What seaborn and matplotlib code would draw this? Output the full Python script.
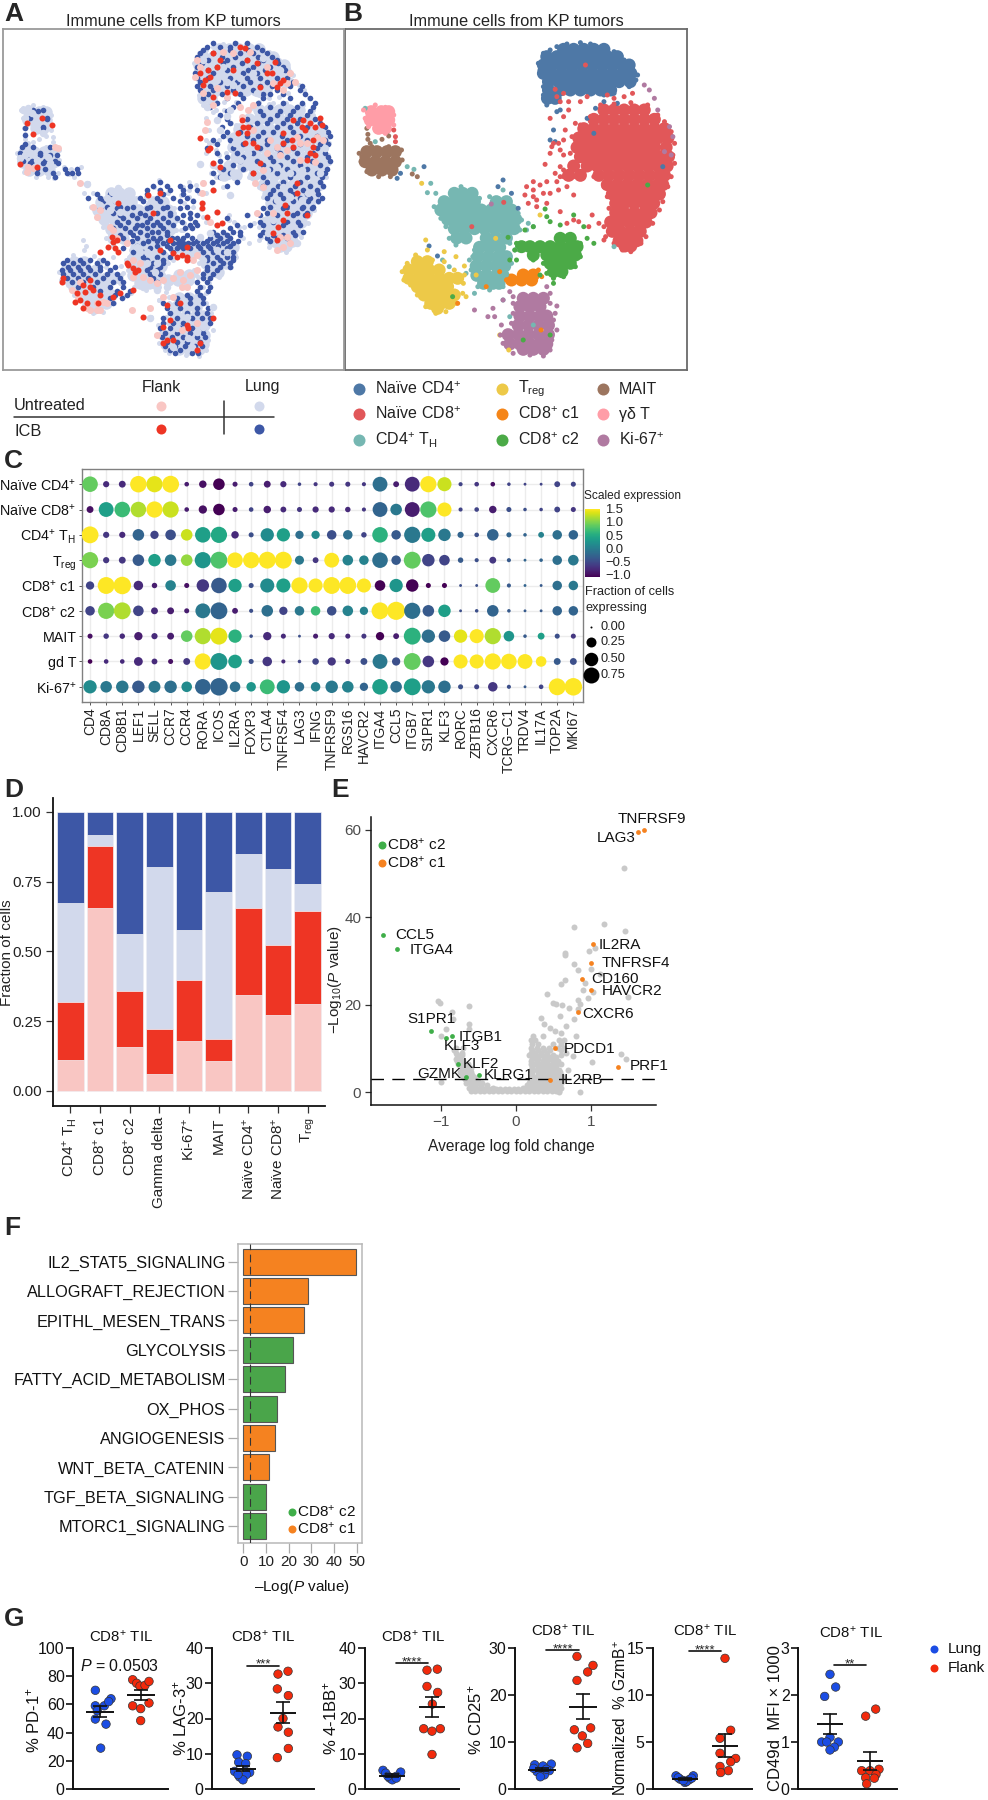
import warnings
import numpy as np
import pandas as pd
import seaborn as sns
import matplotlib
matplotlib.use("Agg")
import matplotlib.pyplot as plt
from matplotlib.cm import ScalarMappable
from matplotlib.colors import Normalize

warnings.filterwarnings("ignore")
sns.set_theme(style="white")
plt.rcParams["font.family"] = ["Liberation Sans", "DejaVu Sans"]
plt.rcParams.update({"mathtext.fontset": "custom", "mathtext.rm": "Liberation Sans",
                     "mathtext.it": "Liberation Sans:italic", "mathtext.bf": "Liberation Sans:bold",
                     "mathtext.default": "regular"})

# ---------- UMAP readings (dense cores as y: [x, ...]) ----------
core_naive_cd4 = {58:[650,680,710,740,770], 80:[600,630,660,690,720,750,780,810],
    105:[590,615,645,675,705,735,765,795,825,845], 130:[590,615,645,675,705,735,765,795,825,850],
    155:[605,635,665,695,725,755,785,815,848], 180:[605,640,670,700,730,760,790], 205:[602,625]}
core_naive_cd8 = {240:[770,800,830,860,890], 268:[740,770,800,830,860,890,920],
    296:[710,740,770,800,830,860,890,920,950], 324:[695,720,750,780,810,840,870,900,930,960],
    352:[690,710,740,770,800,830,860,890,920,955], 380:[700,730,760,790,820,850,880,910,940,962],
    408:[680,720,750,780,810,840,870,900,930,958], 436:[665,700,755,785,815,845,875,905,935,950],
    464:[780,810,840,870,900,930,945], 492:[795,820,850,880,910,935], 520:[805,830,860,890,918],
    548:[805,830,860,890,910], 576:[790,815,845,875,895], 604:[795,820,850,878], 632:[815,840,868], 648:[832,850]}
core_cd4_th = {490:[325,350,378], 515:[295,325,355,385,450,480], 540:[285,315,345,375,405,435,465,495],
    568:[305,335,365,395,425,455,485,508], 596:[325,355,385,415,445,475,503], 624:[332,360,420,450,480],
    652:[400,430,460], 680:[395,425,455,480], 708:[390,420,450,475], 736:[392,420,450,470], 760:[412,440,458]}
core_treg = {695:[215,245], 720:[190,220,250,280], 745:[190,220,250,280,310,335], 770:[215,245,275,305],
    795:[235,265,295,325], 820:[255,285,310], 835:[275]}
core_ki67 = {805:[530,560,590], 830:[520,550,580], 858:[520,550,580,600], 886:[515,545,575,605],
    914:[485,515,545,575,605], 942:[490,520,550,580,600], 958:[530,560,590]}
core_c2 = {625:[640,670], 650:[525,550,580,610,640,670,690], 675:[560,600,630,660,685], 700:[610,640,670], 725:[620,645]}
core_c1 = {735:[530,560], 750:[495,525,555]}
core_mait = {365:[65,95,125,150], 395:[60,90,120,150], 420:[80,110,140]}
core_gd = {245:[78,108,130], 270:[75,105,130], 295:[100,120]}

sat_naive_cd4 = [(640,240),(630,245),(620,300),(610,330),(625,335),(740,310),(770,215),(810,220),(745,235),(720,265),
    (155,445),(165,430),(235,410),(470,450),(455,470),(495,490),(515,535),(250,648),(275,678),(945,410),
    (575,100),(580,120),(590,70),(610,60),(630,50),(660,42),(700,38),(730,42),(770,50),(800,65),(830,90),(855,115),
    (870,135),(865,150),(845,170),(800,190),(770,195),(590,195),(590,170),(600,225),(620,215)]
sat_naive_cd8 = [(625,178),(650,190),(640,215),(665,215),(700,215),(720,200),(780,195),(800,205),(830,200),(855,190),
    (610,265),(650,260),(655,300),(685,280),(620,340),(610,370),(640,360),(640,410),(595,403),(630,455),(650,440),
    (680,420),(540,470),(560,480),(580,465),(600,455),(535,495),(560,500),(590,490),(610,490),(635,480),(680,495),
    (545,520),(570,530),(600,520),(640,545),(735,555),(755,580),(725,590),(660,580),(680,570),(695,575),(770,630),
    (145,300),(150,320),(150,335),(715,105),(472,517),(377,590),
    (760,225),(800,222),(850,218),(900,225),(930,255),(950,275),(970,305),(980,340),(975,375),(980,400),(970,440),
    (960,470),(945,515),(935,540),(915,580),(895,620),(880,640),(850,665),(825,660),(800,640),(775,620),(770,590),
    (785,535),(780,500),(770,470),(740,440),(715,420),(680,440),(650,420),(670,370),(675,320),(700,285),(730,260),
    (750,420),(640,440),(660,470),(625,430),(630,200),(665,240),(650,330),(635,340),(615,350),(650,375),(560,455),(570,510)]
sat_cd4_th = [(245,488),(270,490),(255,460),(545,580),(560,590),(540,600),(385,660),(370,690),(360,730),(385,790),
    (310,710),(290,690),(205,418),(185,410),(470,810),(490,860),(560,885),(800,650),(60,235),(90,335),
    (265,530),(285,565),(300,590),(310,625),(345,470),(375,480),(400,505),(430,500),(470,480),(515,550),(525,570),
    (520,600),(490,640),(505,660),(495,700),(480,735),(470,770),(430,780),(395,770),(375,720),(380,680),(330,645)]
sat_treg = [(240,630),(245,660),(295,665),(330,680),(355,708),(350,790),(360,800),(390,735),(448,625),(228,460),
    (580,555),(460,915),(487,960),(170,725),(175,750),(195,765),(215,795),(240,830),(270,850),(300,845),(330,820),
    (352,760),(355,735),(325,720),(295,695),(260,690),(210,675),(185,700)]
sat_ki67 = [(890,165),(905,180),(920,205),(930,240),(965,290),(975,320),(490,785),(470,810),(500,820),(440,835),
    (385,840),(425,860),(445,860),(465,885),(630,828),(625,850),(600,770),(950,365),(970,375),(435,522),
    (500,800),(610,790),(610,820),(620,870),(630,900),(615,930),(610,960),(590,978),(550,975),(500,970),(470,940),
    (462,915),(495,880),(500,850)]
sat_c2 = [(485,622),(535,600),(560,590),(595,537),(600,560),(610,575),(640,585),(680,555),(710,590),(720,625),
    (740,640),(490,690),(510,690),(580,735),(620,760),(610,915),(530,930),(900,465),(320,800),
    (510,640),(505,660),(560,690),(590,700),(600,730),(700,640),(700,680),(685,710),(650,740),(620,745)]
sat_c1 = [(585,740),(583,900),(420,770),(460,725),(335,820),(480,750),(575,720)]
sat_mait = [(65,295),(68,313),(68,328),(75,340),(110,328),(130,318),(100,440),(135,440),(200,432),(215,440),(50,380),
    (42,370),(48,395),(65,425),(170,390),(168,360),(130,350),(80,350)]
sat_gd = [(55,240),(60,265),(90,225),(120,232),(145,255),(145,285),(120,310),(90,295),(70,290)]

# panel A: cells by condition, read at A's own position
lung_icb_rows = {50:[620,660,690,770], 70:[600,640,720,760,800], 90:[625,680,740,790,830], 110:[590,650,700,760,810,850],
    130:[585,640,730,770,870], 155:[600,660,710,750,800,880], 180:[600,640,700,760,830,900], 205:[610,680,730,790,870,930],
    230:[630,700,810,890,940], 255:[660,790,830,870,920], 280:[690,770,800,850,890,960], 305:[680,720,790,820,880,985],
    330:[640,690,760,800,860,920,975], 355:[620,700,780,830,880,950], 380:[680,730,810,860,920,985], 405:[700,790,840,900,960],
    430:[640,690,760,830,880,950,975,110,160,200,215,235], 455:[480,635,710,800,850,900,960], 480:[440,480,510,550,590,820,870,910,950],
    505:[265,300,420,470,520,560,800,850,900,930,965], 530:[320,360,400,450,500,560,810,860,910,940],
    550:[340,420,470,510,570,770,800,890,920], 565:[370,410,450,490,530,570,680], 585:[360,410,425,460,480,520,570,590,710,750,790,850,900],
    605:[390,420,455,475,500,640,670,700,720,790,880,910], 625:[370,410,460,480,515,530,550,575,600,630,660,690,800,830,860],
    640:[380,430,490,520,535,550,565,580,610,640,670,700], 655:[370,450,510,530,550,570,600,630,680], 680:[430,470,510,620,650,680,700],
    700:[190,220,250,290,320,460,490,640,670,690], 720:[185,210,240,270,300,330,440,470,620,650], 745:[200,235,265,310,360,460,610,630],
    770:[235,280,330,370,600,630], 795:[345,380,560,600], 820:[290,340,490,530,570,610], 850:[510,560,590,620], 880:[490,520,550,590,630],
    910:[495,530,570,610], 935:[500,530,560,600], 960:[510,540,590], 240:[100,130], 265:[90,140], 295:[75,130], 315:[75],
    350:[65,100,150], 375:[80,120,150,170], 400:[90,130,175]}
lung_icb_rows2 = {40:[640,705,740], 60:[610,690,745,785], 80:[590,665,705,775,815], 100:[605,670,725,775,835], 120:[625,680,745,795,855],
    145:[590,625,690,740,780,830,862], 168:[590,630,680,730,780,815,870,905], 192:[625,665,720,790,810,850,915], 218:[650,715,775,850,905,945],
    242:[680,780,840,880,930,115], 268:[680,740,810,860,900,945,140], 292:[665,750,830,870,920,975,130], 318:[670,740,775,845,900,950,990],
    342:[650,730,800,850,900,960,985,75], 368:[650,710,760,840,890,940,975,60,120], 392:[660,720,770,820,880,935,990,95,70,135,165],
    418:[670,730,810,860,920,980,110,135,195,230], 442:[660,790,870,920,965,165], 468:[680,790,835,885,930,970,460,500,540,570],
    492:[810,840,880,920,955,290,330,440,490,550], 512:[825,880,925,955,310,345,430,480,540,580], 535:[790,850,905,935,300,350,380,440,490,540],
    555:[360,395,435,510,550,590,740,780,830,880,915], 575:[350,385,440,470,505,545,585,780,820,860,895],
    595:[340,375,405,440,490,555,575,690], 615:[360,400,440,500,560,650,680,720,780,820,850,885], 632:[395,445,470,505,540,590,620,650,680,715,810,835],
    648:[410,470,500,540,560,595,625,655,690], 665:[400,430,490,520,610,640,670,700], 690:[200,240,270,310,440,490,620,660,700],
    710:[205,235,265,300,345,450,480,620,660,690], 732:[190,220,250,285,320,350,450,480,610,640], 755:[215,250,290,340,370,470,590,620],
    782:[300,350,390,590,625], 805:[330,365,530,570,610], 835:[500,540,590,625], 865:[490,530,575,605,630], 895:[480,510,540,575,610],
    922:[485,515,550,590,615], 948:[495,525,555,585,605], 968:[525,575,595]}
flank_icb_pts = [(600,130),(615,150),(630,140),(640,70),(650,110),(700,120),(720,50),(735,55),(825,95),(800,130),(780,170),(680,185),
    (640,200),(840,160),(850,150),(725,270),(730,290),(715,310),(745,290),(735,340),(910,270),(930,280),(960,265),(965,285),(905,290),
    (875,330),(850,310),(930,370),(940,350),(770,350),(890,460),(855,525),(850,570),(820,610),(835,590),(920,555),(760,430),(600,325),
    (625,360),(640,400),(660,410),(630,355),(640,480),(605,520),(605,535),(650,545),(650,585),(665,580),(620,560),(480,490),(460,550),
    (445,495),(355,520),(335,620),(345,655),(325,650),(355,665),(300,665),(385,705),(400,715),(415,720),(480,660),(510,630),(560,680),
    (530,680),(560,650),(560,690),(250,765),(270,770),(280,780),(260,820),(240,810),(295,820),(190,745),(185,755),(230,790),(340,800),
    (360,790),(400,780),(430,860),(640,865),(490,890),(490,940),(520,930),(560,885),(590,960),(500,825),(110,410),(60,403),(125,265),
    (100,312),(80,280),(155,285),
    (610,165),(625,120),(660,90),(740,90),(770,100),(815,130),(830,170),(705,190),(740,310),(880,270),(945,290),(915,300),(880,350),(850,340),
    (940,330),(945,375),(920,390),(780,400),(760,340),(890,490),(860,550),(830,630),(380,700),(405,725),(350,630),(340,635),(520,670),(545,675),
    (270,750),(255,785),(300,795),(225,815),(250,835),(540,820),(510,870),(565,895),(600,940),(500,930)]
flank_untreated_pts = [(590,90),(600,110),(670,65),(610,190),(680,200),(870,130),(885,155),(850,180),(745,240),(760,225),(620,275),
    (615,300),(830,350),(860,360),(900,340),(950,320),(970,330),(800,370),(765,460),(770,550),(850,650),(830,660),(870,640),(290,840),
    (270,840),(310,815),(235,800),(400,690),(420,700),(430,740),(490,750),(520,745),(550,750),(570,735),(580,690),(545,770),(395,840),
    (450,835),(470,915),(290,560),(280,530),(175,355),(85,410),(240,460),(605,490),(610,460),(630,575),(590,675),(350,625),
    (585,140),(650,175),(700,70),(750,65),(800,110),(820,160),(860,160),(640,225),(720,230),(725,260),(760,300),(810,330),(840,375),(890,320),
    (920,340),(900,390),(945,395),(790,470),(790,420),(820,550),(840,620),(860,620),(290,820),(260,835),(300,840),(320,820),(215,780),(240,755),
    (400,740),(450,750),(470,760),(540,725),(590,720),(560,770),(520,800),(490,800),(545,900),(590,880),(340,600),(330,590),(165,350),(100,415),
    (80,425),(300,540),(380,640)]
lung_untreated_pts = [(260,462),(690,495),(600,403),(640,405),(450,865),(640,830),(680,258),(690,240),(660,300),
    (70,240),(85,235),(95,250),(75,265),(110,300),(130,310),(60,385),(75,375),(110,390),(150,400),(145,380),(90,370),
    (335,485),(355,475),(375,490),(320,505),(345,510),(300,525),(330,540),(360,545),(310,560),(395,510),(315,585),
    (470,700),(440,665),(465,725),(500,770),(470,780),(430,770),(440,700),(420,665),(410,650),
    (560,860),(530,895),(590,905),(520,950),(575,950),(565,925),(610,890),
    (650,150),(680,155),(720,145),(760,130),(790,85),(670,110),(610,90),(700,165),(770,190),(840,120),(620,230),(650,270),
    (705,340),(720,390),(745,370),(800,420),(830,410),(870,430),(905,420),(820,450),(850,470),(905,510),(925,490),(960,430),
    (830,510),(870,500),(880,535),(820,570),(870,590),(890,640),(805,610),(840,640),(975,355),(965,305),(700,430),(665,440),
    (650,660),(610,690),(680,665),(630,610),(600,620)]

umap_names = ["Naïve CD4", "Naïve CD8", "CD4 TH", "Treg", "CD8 c1", "CD8 c2", "MAIT", "gd", "Ki67"]
umap_colors = ["#4E78A6", "#E15759", "#76B7B2", "#EDC948", "#F58518", "#4BAA47", "#9C755F", "#FF9DA7", "#B07AA1"]
cond_colors = {"fu": "#F9C6C3", "fi": "#EE3524", "lu": "#D2D9EC", "li": "#3D57A6"}

# ---------- Panel C ----------
genes = ["CD4","CD8A","CD8B1","LEF1","SELL","CCR7","CCR4","RORA","ICOS","IL2RA","FOXP3","CTLA4","TNFRSF4","LAG3","IFNG","TNFRSF9",
         "RGS16","HAVCR2","ITGA4","CCL5","ITGB7","S1PR1","KLF3","RORC","ZBTB16","CXCR6","TCRG−C1","TRDV4","IL17A","TOP2A","MKI67"]
dot_rows = ["Naïve CD4$^{+}$","Naïve CD8$^{+}$","CD4$^{+}$ T$_{H}$","T$_{reg}$","CD8$^{+}$ c1","CD8$^{+}$ c2","MAIT","gd T","Ki-67$^{+}$"]
expr = [
 [.9,-.7,-.7,1.5,1.4,1.5,-.8,-.9,-1,-.8,-.5,-.8,-.7,-.5,-.6,-.6,-.6,-.6,-.1,-.8,-.7,1.5,1.3,-.5,-.6,-.9,-.5,-.5,-.5,-.5,-.5],
 [-.9,.4,.7,1.2,1.5,1.3,-.8,-.9,-1,-.8,-.5,-.8,-.7,-.6,-.7,-.7,-.7,-.6,-.2,0,-.8,.8,1.5,-.5,-.5,-.8,-.4,-.4,-.5,-.5,-.6],
 [1.5,-.6,-.7,-.2,-.5,-.4,1.3,.4,.5,-.7,-.4,.2,.4,-.1,.2,-.4,-.1,-.5,.6,-.3,0,.4,0,-.2,-.4,-.2,-.2,-.2,.1,-.1,-.2],
 [1,-.6,-.6,-.3,.4,0,1.1,.3,.8,1.5,1.5,1.5,1.5,0,-.6,1.5,.1,.1,-.1,-.3,.9,-.5,-.5,-.3,-.4,-.6,-.3,-.2,-.2,-.1,0],
 [-.5,1.5,1.5,-.7,-.8,.1,-.9,-.6,-.3,.4,-.4,.2,.4,1.5,1.5,1.5,1.5,1.5,-1,.3,-1,-1,-1,-.4,-.4,.9,-.3,-.2,-.3,-.1,0],
 [-.5,1,1.2,-.5,-.7,-.8,-.8,0,-.2,-.8,-.4,-.1,-.5,0,.7,-.4,.1,.1,1.5,1.5,-.1,-.3,.4,-.4,-.4,-.2,-.3,-.3,-.3,-.2,-.2],
 [-.9,-.6,-.7,-.8,-.7,-.8,.9,1.2,1.4,.6,-.4,-.7,-.7,-.4,-.8,-.7,-.7,-.6,-1,-.8,.6,-.1,-.3,1.4,1.5,1.2,.3,-.3,.4,-.4,-.6],
 [-1,-.7,-.7,-.7,-.7,-.9,-.6,1.5,.3,.4,-.4,-.6,-.7,-.5,-.5,-.6,-.6,-.4,0,-.4,.9,-.6,-1,1.5,1.5,1.5,1.5,1.5,1.5,-.3,-.4],
 [.2,0,0,-.3,0,-.1,.2,-.2,-.2,-.1,.3,.7,.3,-.1,.1,0,.1,-.2,.4,-.1,.4,0,-.1,-.4,-.5,-.6,-.4,-.3,-.5,1.5,1.5]]
frac = [
 [.55,.08,.1,.62,.6,.65,.04,.12,.3,.05,.04,.1,.08,.02,.03,.05,.05,.03,.5,.07,.5,.6,.45,.03,.04,.04,.02,.01,.01,.07,.05],
 [.1,.5,.55,.55,.6,.6,.04,.15,.3,.05,.04,.12,.07,.05,.08,.08,.06,.03,.5,.3,.5,.6,.45,.03,.04,.12,.05,.02,.02,.07,.05],
 [.65,.08,.08,.3,.15,.25,.3,.55,.6,.12,.05,.4,.4,.15,.15,.2,.2,.06,.55,.2,.6,.45,.35,.08,.04,.3,.05,.02,.07,.2,.2],
 [.6,.08,.1,.3,.35,.3,.3,.6,.65,.55,.6,.65,.65,.18,.07,.5,.25,.2,.55,.2,.65,.35,.25,.06,.03,.1,.03,.01,.02,.2,.25],
 [.15,.65,.7,.2,.06,.25,.05,.35,.55,.4,.05,.45,.45,.6,.45,.65,.65,.45,.25,.4,.35,.05,.05,.01,.01,.5,.03,.01,.01,.2,.2],
 [.2,.6,.65,.25,.1,.1,.05,.5,.65,.07,.03,.3,.15,.2,.2,.2,.25,.15,.65,.75,.6,.3,.35,.01,.02,.3,.02,.01,.01,.2,.2],
 [.05,.06,.06,.15,.08,.1,.3,.6,.65,.4,.02,.15,.05,.01,.05,.08,.05,.05,.15,.07,.65,.4,.3,.4,.45,.6,.25,.02,.1,.05,.05],
 [.04,.04,.04,.17,.07,.05,.1,.6,.65,.42,.05,.2,.03,.02,.09,.15,.05,.1,.5,.15,.65,.3,.15,.45,.45,.6,.55,.5,.25,.1,.1],
 [.4,.3,.35,.35,.32,.35,.25,.55,.7,.25,.2,.5,.4,.2,.2,.35,.3,.15,.55,.3,.65,.4,.35,.05,.05,.2,.03,.01,.04,.65,.7]]

# ---------- Panel D ----------
bar_cats = ["CD4$^{+}$ T$_{H}$","CD8$^{+}$ c1","CD8$^{+}$ c2","Gamma delta","Ki-67$^{+}$","MAIT","Naïve CD4$^{+}$","Naïve CD8$^{+}$","T$_{reg}$"]
flank_untreated = [.11,.656,.157,.062,.178,.106,.344,.272,.312]
flank_icb = [.209,.221,.201,.161,.221,.08,.311,.252,.333]
lung_untreated = [.355,.042,.205,.58,.179,.526,.193,.27,.097]
lung_icb = [.326,.081,.437,.197,.422,.288,.152,.206,.258]

# ---------- Panel E ----------
grey_x = [1.44,1.45,1.17,.77,1.05,.97,.65,.66,.77,.83,1.0,1.12,.65,.6,.92,.89,1.03,.96,1.49,.42,.83,.86,.5,.54,.61,.71,.83,.59,.34,.77,.38,.67,.45,.52,.6,.8,.23,.36,1.4,1.47,1.02,.67,.76,.69,.86,.58,
          -1.04,-1.01,-.62,-.85,-.84,-.62,-.62,-.93,-1.0,-.8,-.7,-1.0]
grey_y = [51.3,36.9,38.5,37.8,33,32.2,31.8,31.4,29.3,28,28.2,26.9,25.6,24.6,25,23.4,22.8,21.5,21.7,22.4,21,20.2,20.4,20.2,19.8,19.2,18.9,17.5,16.9,16.7,15.6,15,14.7,13.9,13.5,12.9,12.7,12.7,8.7,7.6,6.9,8.9,8.2,5.1,0,0,
          20.9,20.4,19.6,18.2,16.6,15.6,14.3,14.3,12.7,10,10,2.4]
grey_rows = {0.3:[-.6,-.54,-.48,-.42,-.36,-.3,-.24,-.18,-.12,-.06,0,.06,.12,.18,.24,.3,.36,.42,.48,.54,.58],
    .6:[-.57,-.51,-.45,-.39,-.33,-.27,-.21,-.15,-.09,-.03,.03,.09,.15,.21,.27,.33,.39,.45,.51,.57],
    1:[-.62,-.55,-.48,-.4,-.3,.1,.2,.25,.3,.35,.4,.45,.5,.55,.6], 1.5:[-.6,-.54,-.46,-.38,.15,.22,.27,.33,.38,.43,.48,.53,.58],
    2:[-.66,-.6,-.52,-.45,.18,.25,.3,.35,.4,.45,.5,.55,.6], 2.5:[-.64,-.57,-.5,.19,.26,.32,.37,.43,.49,.55,.62],
    3:[-.68,-.62,-.55,.2,.28,.34,.4,.46,.52,.58], 3.5:[-.7,-.63,-.56,.21,.27,.33,.39,.45,.51,.57,.63],
    4:[-.72,-.65,-.58,.22,.3,.36,.42,.48,.54,.6], 4.5:[-.74,-.67,-.6,.21,.29,.35,.41,.47,.53,.59],
    5:[-.7,-.65,.2,.28,.34,.4,.46,.52,.58], 5.5:[-.72,-.66,-.6,.22,.3,.36,.42,.48,.54],
    6:[-.75,-.68,.22,.3,.38,.45,.52], 6.5:[-.77,-.7,-.64,.2,.26,.34,.41,.48,.55,.6],
    7:[-.78,-.7,.2,.28,.36,.42,.5,.56], 7.5:[-.8,-.74,.22,.3,.37,.44,.52], 8:[-.76,.24,.3,.38,.46,.54], 8.5:[-.78,-.72,.18,.25,.32,.4,.5,.6],
    9:[-.8,-.72,.2,.26,.34,.42], 9.5:[-.82,.22,.3,.38,.46,.6], 10:[.2,.28,.36,.44,.56,.64], 11:[.22,.3,.5,.6], 12:[.2,.26,.58,.64]}
up_genes = ["TNFRSF9","LAG3","IL2RA","TNFRSF4","CD160","HAVCR2","CXCR6","PDCD1","PRF1","IL2RB"]
up_x = [1.71,1.63,1.03,1.0,.88,1.0,.83,.52,1.36,.46]
up_y = [60,59.5,33.8,29.6,25.9,23.4,18.2,10,5.8,2.8]
down_genes = ["CCL5","ITGA4","S1PR1","ITGB1","KLF3","KLF2","KLRG1","GZMK"]
down_x = [-1.77,-1.59,-1.13,-.85,-.93,-.77,-.49,-.66]
down_y = [36,32.6,14,12.8,12.3,6.4,4,3.4]
up_label_pos = [(1.36,62.4),(1.08,58.2),(1.1,33.6),(1.15,29.5),(1.01,25.9),(1.15,23),(.89,17.9),(.64,9.8),(1.52,5.9),(.6,2.7)]
down_label_pos = [(-1.61,35.9),(-1.41,32.5),(-1.44,16.6),(-.76,12.5),(-.96,10.5),(-.71,6.5),(-.43,3.8),(-1.31,4.2)]

# ---------- Panel F ----------
pathways = ["IL2_STAT5_SIGNALING","ALLOGRAFT_REJECTION","EPITHL_MESEN_TRANS","GLYCOLYSIS","FATTY_ACID_METABOLISM","OX_PHOS",
            "ANGIOGENESIS","WNT_BETA_CATENIN","TGF_BETA_SIGNALING","MTORC1_SIGNALING"]
path_logp = [49.7,28.4,26.9,21.8,18.4,15.1,14,11.5,10.1,9.9]
path_group = ["c1","c1","c1","c2","c2","c2","c1","c1","c2","c2"]

# ---------- Panel G ----------
g_ylabels = ["% PD-1$^{+}$","% LAG-3$^{+}$","% 4-1BB$^{+}$","% CD25$^{+}$","Normalized  % GzmB$^{+}$","CD49d  MFI × 1000"]
g_lung = [[70,59,59,64,62,55.5,49.6,46,29],[9.7,9.3,7.6,7.2,5,4.7,3.4,4.1,2.6,4.1],[5.3,4.5,4.8,3.6,3.1,2.6,3.1,3.6],
          [5.15,5.3,4.9,3.7,3.9,3,2.6,4.2,4.4],[1.4,1.4,1.05,1,.7,1.2,.8,1.15,.9],[2.44,2.17,1.97,1.1,1,1,1,.89,.83]]
g_flank = [[77.5,75,73,73.5,76.3,59,57,61,48.5],[33.4,32.6,28.4,26.5,20,17.6,16.1,11.5,8.9],[34,33.7,29.1,27.4,24.1,17.1,17.1,16.4,9.8],
           [28.2,26.3,24.9,23.1,13,12.6,11.3,9.7,8.75],[13.9,6.25,5.4,3.8,3.25,2.9,2.4,1.95,1.75],[1.7,1.55,.42,.39,.39,.31,.24,.23,.11]]
g_lung_jit = [[-14,-14,13,33,26,-8,-14,18,2],[-18,13,-13,8,-25,20,-10,10,0,-15],[-27,-19,26,13,-7,1,13,-12],
              [-22,28,3,-15,22,7,-5,13,-25],[-27,25,-15,13,0,-20,5,20,-5],[0,17,-16,0,-25,-10,25,13,0]]
g_flank_jit = [[-25,-13,-3,12,24,-25,-1,24,-1],[15,-15,-17,16,0,-15,16,16,-17],[16,-15,-15,17,1,-25,25,0,0],
               [-18,30,14,-18,23,-26,-2,14,-18],[0,17,-15,-15,32,17,-15,10,-13],[17,-13,27,-25,0,18,-13,13,-10]]
g_ymax = [100,40,40,30,15,3]
g_yticks = [[0,20,40,60,80,100],[0,10,20,30,40],[0,10,20,30,40],[0,10,20,30],[0,5,10,15],[0,1,2,3]]
g_sig = [None,"***","****","****","****","**"]
g_sig_y = [None,35,35.7,29.6,14.65,2.63]

# ---------- layout ----------
W, H = 988, 1800
fig = plt.figure(figsize=(W/100, H/100), dpi=100, facecolor="white")
def ax_px(l, t, r, b):
    return fig.add_axes([l/W, 1-b/H, (r-l)/W, (b-t)/H])
PX = 0.72
FS = 11
ov = fig.add_axes([0,0,1,1], zorder=20); ov.set_xlim(0,W); ov.set_ylim(H,0); ov.axis("off"); ov.patch.set_alpha(0)
def T(x, y, s, size=FS, ha="left", va="center", **k):
    ov.text(x, y, s, fontsize=size, ha=ha, va=va, **k)
def D(x, y, c, d=10):
    ov.scatter([x],[y], s=(d*PX)**2, c=c, linewidths=0)

for lab,x,y in [("A",4,14),("B",343,14),("C",4,461),("D",4,790),("E",331,790),("F",4,1228),("G",4,1619)]:
    T(x,y,lab,size=19,fontweight="bold")

def rows_df(rows):
    return pd.DataFrame([(x,y) for y,xs in rows.items() for x in xs], columns=["x","y"])
def pts_df(pts):
    return pd.DataFrame(pts, columns=["x","y"])

cores = [core_naive_cd4,core_naive_cd8,core_cd4_th,core_treg,core_c1,core_c2,core_mait,core_gd,core_ki67]
sats = [sat_naive_cd4,sat_naive_cd8,sat_cd4_th,sat_treg,sat_c1,sat_c2,sat_mait,sat_gd,sat_ki67]
core_df = pd.concat([rows_df(r).assign(c=n) for r,n in zip(cores,umap_names)])
sat_df = pd.concat([pts_df(p).assign(c=n) for p,n in zip(sats,umap_names) if p])
pal = dict(zip(umap_names,umap_colors))

# Panel B
axB = ax_px(345,29,687,370)
sns.scatterplot(data=core_df,x="x",y="y",hue="c",palette=pal,s=(13*PX)**2,linewidth=0,legend=False,ax=axB)
sns.scatterplot(data=sat_df,x="x",y="y",hue="c",palette=pal,s=(5*PX)**2,linewidth=0,legend=False,ax=axB)
axB.set_xlim(0,1017); axB.set_ylim(1020,-3)
# Panel A
axA = ax_px(3,29,344,370)
sns.scatterplot(data=core_df.assign(x=core_df.x+8),x="x",y="y",color=cond_colors["lu"],s=(12.5*PX)**2,linewidth=0,legend=False,ax=axA)
sns.scatterplot(data=sat_df.assign(x=sat_df.x+8),x="x",y="y",color=cond_colors["lu"],s=(5*PX)**2,linewidth=0,legend=False,ax=axA)
lung_all = pd.concat([rows_df(lung_icb_rows),rows_df(lung_icb_rows2)])
sns.scatterplot(data=lung_all,x="x",y="y",color=cond_colors["li"],s=(5.6*PX)**2,linewidth=0,legend=False,ax=axA)
sns.scatterplot(data=pts_df(lung_untreated_pts),x="x",y="y",color=cond_colors["lu"],s=(7.5*PX)**2,linewidth=0,legend=False,ax=axA)
sns.scatterplot(data=pts_df(flank_untreated_pts),x="x",y="y",color=cond_colors["fu"],s=(7*PX)**2,linewidth=0,legend=False,ax=axA)
sns.scatterplot(data=pts_df(flank_icb_pts),x="x",y="y",color=cond_colors["fi"],s=(6*PX)**2,linewidth=0,legend=False,ax=axA)
axA.set_xlim(9,1032); axA.set_ylim(1020,-3)
for a,c in ((axA,"#9a9a9a"),(axB,"#6a6a6a")):
    a.set(xticks=[],yticks=[],xlabel="",ylabel="")
    for s in a.spines.values():
        s.set_visible(True); s.set_color(c); s.set_linewidth(1.3)
T(173,21,"Immune cells from KP tumors",size=11.8,ha="center",color="#222")
T(516,21,"Immune cells from KP tumors",size=11.8,ha="center",color="#222")

# legends under A/B
T(161,387,"Flank",size=11.5,ha="center",color="#222"); T(262,387,"Lung",size=11.5,ha="center",color="#222")
T(14,405,"Untreated",size=11.8,color="#222"); T(14,431,"ICB",size=11.8,color="#222")
ov.plot([14,274],[417,417],color="#333",lw=1.1); ov.plot([224,224],[401,434],color="#333",lw=1.1)
D(161,406,cond_colors["fu"]); D(259,406,cond_colors["lu"]); D(161,429,cond_colors["fi"]); D(259,429,cond_colors["li"])
blg = [("Naïve CD4$^{+}$",0,0,umap_colors[0]),("Naïve CD8$^{+}$",0,1,umap_colors[1]),("CD4$^{+}$ T$_{H}$",0,2,umap_colors[2]),
       ("T$_{reg}$",1,0,umap_colors[3]),("CD8$^{+}$ c1",1,1,umap_colors[4]),("CD8$^{+}$ c2",1,2,umap_colors[5]),
       ("MAIT",2,0,umap_colors[6]),("γδ T",2,1,umap_colors[7]),("Ki-67$^{+}$",2,2,umap_colors[8])]
for s,i,j,c in blg:
    D([359,502,603][i],[389,414,440][j],c,d=12)
    T([375,518,619][i],[389,414,440][j],s,size=11.5,color="#222")

# Panel C
axC = ax_px(82,469,583,702)
rec = pd.DataFrame([(j,i,expr[i][j],frac[i][j]) for i in range(9) for j in range(31)],columns=["g","r","e","f"])
axC.set_axisbelow(True)
axC.grid(True,color="#ececec",lw=1.0)
sns.scatterplot(data=rec,x="g",y="r",hue="e",hue_norm=(-1,1.5),palette="viridis",size="f",size_norm=(0,.75),sizes=(2,170),
                linewidth=0,legend=False,ax=axC,zorder=3)
axC.set_xlim(-.5,30.6); axC.set_ylim(8.6,-.6)
axC.set_xticks(range(31)); axC.set_xticklabels(genes,rotation=90,fontsize=10,color="#222")
axC.set_yticks(range(9)); axC.set_yticklabels(dot_rows,fontsize=10.3,color="#111")
axC.set(xlabel="",ylabel="")
axC.tick_params(axis="both",length=2.5,width=.7,pad=1.5,color="#555",bottom=True,left=True)
for s in axC.spines.values():
    s.set_visible(True); s.set_color("#808080"); s.set_linewidth(1.0)
T(584,496,"Scaled expression",size=8.6,color="#222")
cax = ax_px(585,509,600,577)
cb = fig.colorbar(ScalarMappable(Normalize(-1,1.5),"viridis"),cax=cax)
cb.outline.set_visible(False); cb.set_ticks([])
for v,y in zip(["1.5","1.0","0.5","0.0","−0.5","−1.0"],[510,523,537,550,563,576]):
    T(605,y,v,size=9.4,color="#222")
T(585,592,"Fraction of cells",size=9.2,color="#222"); T(585,608,"expressing",size=9.2,color="#222")
for v,y,d in zip(["0.00","0.25","0.50","0.75"],[627,642,659,675],[2,10,13.5,16]):
    D(590.5,y,"black",d=d); T(600,y,v,size=9.2,color="#222")

# Panel D
axD = ax_px(53,798,325,1106)
seg = np.array([flank_untreated,flank_icb,lung_untreated,lung_icb])
cum = seg.cumsum(axis=0)
for k,c in zip([3,2,1,0],["li","lu","fi","fu"]):
    sns.barplot(x=bar_cats,y=cum[k],order=bar_cats,color=cond_colors[c],saturation=1,width=.9,edgecolor="#f4f4f8",linewidth=.5,ax=axD)
axD.set_xlim(-.58,8.58); axD.set_ylim(-.054,1.05)
axD.set_yticks([0,.25,.5,.75,1]); axD.set_yticklabels(["0.00","0.25","0.50","0.75","1.00"],fontsize=FS,color="#222")
axD.set_xticks(range(9)); axD.set_xticklabels(bar_cats,rotation=90,fontsize=FS,color="#222")
axD.set(xlabel="",ylabel="")
axD.tick_params(axis="both",length=5,width=.9,color="#333",bottom=True,left=True,pad=3)
sns.despine(ax=axD)
for s in ("left","bottom"):
    axD.spines[s].set_color("#111"); axD.spines[s].set_linewidth(1.3)
T(7,953,"Fraction of cells",size=FS,rotation=90,ha="center",color="#222")

# Panel E
axE = ax_px(371,817,656,1105)
grey = pd.concat([pd.DataFrame({"x":grey_x,"y":grey_y}),pd.DataFrame([(x,y) for y,xs in grey_rows.items() for x in xs],columns=["x","y"])])
sns.scatterplot(data=grey,x="x",y="y",color="#C9C9C9",s=(6*PX)**2,linewidth=0,legend=False,ax=axE)
axE.axhline(3,color="black",lw=1.0,ls=(0,(9,6)),zorder=4)
sns.scatterplot(x=up_x,y=up_y,color="#F58220",s=(4.8*PX)**2,linewidth=0,legend=False,ax=axE,zorder=5)
sns.scatterplot(x=down_x,y=down_y,color="#3FAE49",s=(4.8*PX)**2,linewidth=0,legend=False,ax=axE,zorder=5)
sns.scatterplot(x=[-1.79],y=[56.5],color="#3FAE49",s=(8*PX)**2,linewidth=0,legend=False,ax=axE,zorder=5)
sns.scatterplot(x=[-1.79],y=[52.3],color="#F58220",s=(8*PX)**2,linewidth=0,legend=False,ax=axE,zorder=5)
axE.set_xlim(-1.93,1.87); axE.set_ylim(-2.97,62.9)
for g,(x,y) in list(zip(up_genes,up_label_pos))+list(zip(down_genes,down_label_pos)):
    axE.text(x,y,g,fontsize=FS,va="center",color="#111",clip_on=False,zorder=6)
T(387,845,"CD8$^{+}$ c2",color="#111"); T(387,863,"CD8$^{+}$ c1",color="#111")
axE.set_xticks([-1,0,1]); axE.set_xticklabels(["−1","0","1"],fontsize=FS,color="#4d4d4d")
axE.set_yticks([0,20,40,60]); axE.set_yticklabels(["0","20","40","60"],fontsize=FS,color="#4d4d4d")
axE.set(xlabel="",ylabel="")
axE.tick_params(axis="both",length=4,width=.9,color="#333",bottom=True,left=True,pad=3)
sns.despine(ax=axE)
for s in ("left","bottom"):
    axE.spines[s].set_color("#111"); axE.spines[s].set_linewidth(1.1)
T(511,1146,"Average log fold change",size=11.2,ha="center",color="#222")
T(335,980,"−Log$_{10}$($\\mathit{P}$ value)",size=FS,rotation=90,ha="center",color="#222")

# Panel F
axF = ax_px(238,1244,362,1543)
sns.barplot(x=path_logp,y=pathways,hue=path_group,palette={"c1":"#F58220","c2":"#4AA54A"},dodge=False,saturation=1,width=.885,
            edgecolor="#555555",linewidth=.8,legend=False,ax=axF,orient="h",order=pathways)
axF.axvline(3.1,color="#333",lw=.8,ls=(0,(7,4)),zorder=5)
axF.set_xlim(-2.3,52.4); axF.set_ylim(9.57,-.6)
axF.set_xticks(range(0,51,10)); axF.set_xticklabels([str(v) for v in range(0,51,10)],fontsize=FS,color="#222")
axF.set_yticks(range(10)); axF.set_yticklabels(pathways,fontsize=11.7,color="#111")
axF.set(xlabel="",ylabel="")
axF.tick_params(axis="both",length=7,width=.9,color="#aaa",bottom=True,left=True,pad=2)
for s in axF.spines.values():
    s.set_visible(True); s.set_color("#b8b8b8"); s.set_linewidth(1.1)
D(292,1512,"#3FAE49",d=8); T(297,1512,"CD8$^{+}$ c2",color="#111")
D(292,1529,"#F58220",d=8); T(297,1529,"CD8$^{+}$ c1",color="#111")
T(302,1587,"–Log($\\mathit{P}$ value)",ha="center",color="#111")

# Panel G
g_box = [(73,168,1648),(212,314,1648),(365,459,1648),(515,613,1648),(653,752,1648),(798,897,1648)]
g_cent = [(100,141),(243,283),(392,432),(542,583),(685,725),(830,870)]
g_titles = [(121,1637),(263,1637),(413,1637),(563,1631),(705,1631),(851,1633)]
g_lab = [(33,1720),(180,1718),(330,1718),(475,1720),(621,1718),(775,1718)]
g_lab_size = [12,12,12,12,11.2,12]
BLUE,RED = "#1B4DE4","#F22A0C"
for i,(l,r,t) in enumerate(g_box):
    b = 1789
    ax = ax_px(l,t,r,b)
    c0,c1 = g_cent[i]; sp = c1-c0
    xs = [j/(3*sp) for j in g_lung_jit[i]] + [1+j/(3*sp) for j in g_flank_jit[i]]
    df = pd.DataFrame({"x":xs,"v":g_lung[i]+g_flank[i],"g":["Lung"]*len(g_lung[i])+["Flank"]*len(g_flank[i])})
    sns.scatterplot(data=df,x="x",y="v",hue="g",palette={"Lung":BLUE,"Flank":RED},s=(8.5*PX)**2,
                    edgecolor="#333",linewidth=.5,legend=False,ax=ax,zorder=3,clip_on=False)
    for k,vals in enumerate((g_lung[i],g_flank[i])):
        m = np.mean(vals); e = np.std(vals,ddof=1)/np.sqrt(len(vals))
        ax.plot([k-.33,k+.33],[m,m],color="#111",lw=1.4,zorder=4,solid_capstyle="butt")
        ax.plot([k,k],[m-e,m+e],color="#111",lw=1.2,zorder=4)
        for yy in (m-e,m+e):
            ax.plot([k-.18,k+.18],[yy,yy],color="#111",lw=1.2,zorder=4,solid_capstyle="butt")
    ax.set_xlim((l-c0)/sp,(r-c0)/sp); ax.set_ylim(0,g_ymax[i])
    ax.set_xticks([]); ax.set_yticks(g_yticks[i])
    ax.set_yticklabels([str(v) for v in g_yticks[i]],fontsize=11.5,color="#111")
    ax.set(xlabel="",ylabel="")
    ax.tick_params(axis="y",length=5,width=1.2,color="#111",left=True,pad=1)
    sns.despine(ax=ax)
    for s in ("left","bottom"):
        ax.spines[s].set_color("#111"); ax.spines[s].set_linewidth(1.4); ax.spines[s].set_visible(True)
    ax.patch.set_alpha(0)
    if g_sig[i]:
        y = g_sig_y[i]
        ax.plot([.1,.9],[y,y],color="#111",lw=1.2,clip_on=False)
        ax.annotate(g_sig[i],xy=(.5,y),xytext=(0,0.5),textcoords="offset points",ha="center",va="center",fontsize=9.5,color="#222",annotation_clip=False)
    T(g_titles[i][0],g_titles[i][1],"CD8$^{+}$ TIL",size=10.8,ha="center",color="#111")
    T(g_lab[i][0],g_lab[i][1],g_ylabels[i],size=g_lab_size[i],rotation=90,ha="center",color="#111")
T(120,1666,"$\\mathit{P}$ = 0.0503",size=11.5,ha="center",color="#111")
D(934,1649,BLUE,d=8); T(948,1649,"Lung",color="#111")
D(934,1668,RED,d=8); T(948,1668,"Flank",color="#111")

fig.savefig("out.png",dpi=100)
